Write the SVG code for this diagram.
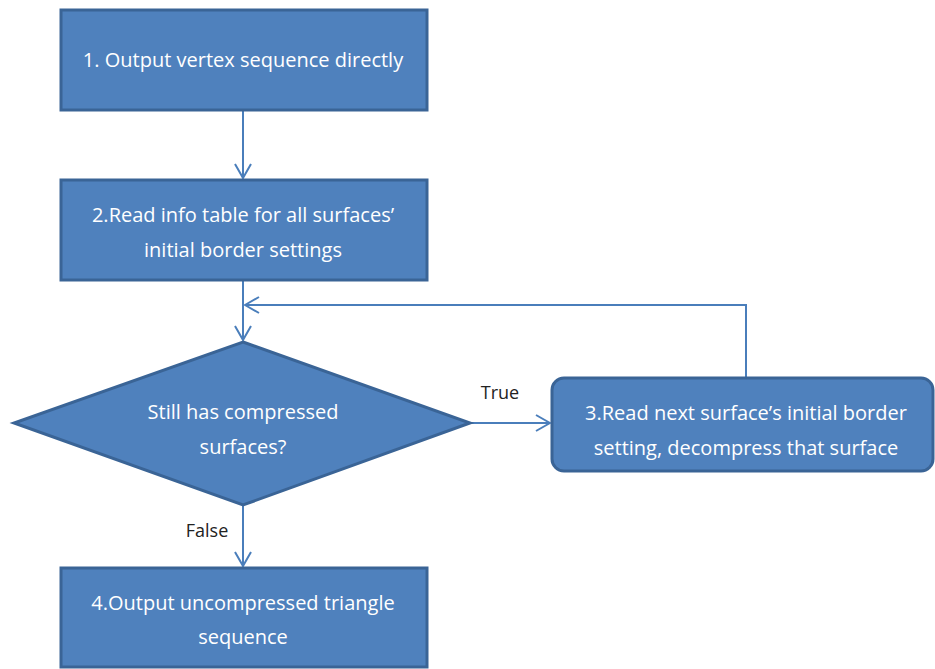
<svg xmlns="http://www.w3.org/2000/svg" width="935" height="669" viewBox="0 0 935 669">
<style>
.n{fill:#4F81BD;stroke:#3A6496;stroke-width:3}
.t{font-family:"Open Sans","Liberation Sans",sans-serif;font-size:20px;fill:#FFFFFF;text-anchor:middle}
.l{font-family:"Open Sans","Liberation Sans",sans-serif;font-size:18px;fill:#222222;text-anchor:middle}
.c{fill:none;stroke:#4A7EBB;stroke-width:2}
</style>
<defs>
<marker id="a" viewBox="0 0 16 18" refX="15" refY="9" markerWidth="16" markerHeight="18" markerUnits="userSpaceOnUse" orient="auto">
<path d="M1,1 L15,9 L1,17" fill="none" stroke="#4A7EBB" stroke-width="2"/>
</marker>
</defs>
<g id="connectors">
<path class="c" d="M243,111 V178" marker-end="url(#a)"/>
<path class="c" d="M243,281 V340" marker-end="url(#a)"/>
<path class="c" d="M746,377 V305 H245" marker-end="url(#a)"/>
<path class="c" d="M471,423 H550" marker-end="url(#a)"/>
<path class="c" d="M243,506 V566" marker-end="url(#a)"/>
<text class="l" x="500" y="399">True</text>
<text class="l" x="207" y="537">False</text>
</g>
<g id="n1">
<rect class="n" x="61" y="10" width="366" height="100"/>
<text class="t" x="243" y="67">1. Output vertex sequence directly</text>
</g>
<g id="n2">
<rect class="n" x="61" y="180" width="366" height="100"/>
<text class="t" x="243" y="222">2.Read info table for all surfaces’</text>
<text class="t" x="243" y="257">initial border settings</text>
</g>
<g id="d">
<polygon class="n" points="243,342 470,423 243,505 14,423"/>
<text class="t" x="243" y="419">Still has compressed</text>
<text class="t" x="243" y="454">surfaces?</text>
</g>
<g id="n3">
<rect class="n" x="552" y="378" width="381" height="93" rx="12"/>
<text class="t" x="746" y="420">3.Read next surface’s initial border</text>
<text class="t" x="746" y="455">setting, decompress that surface</text>
</g>
<g id="n4">
<rect class="n" x="61" y="568" width="366" height="99"/>
<text class="t" x="243" y="610">4.Output uncompressed triangle</text>
<text class="t" x="243" y="644">sequence</text>
</g>
</svg>
